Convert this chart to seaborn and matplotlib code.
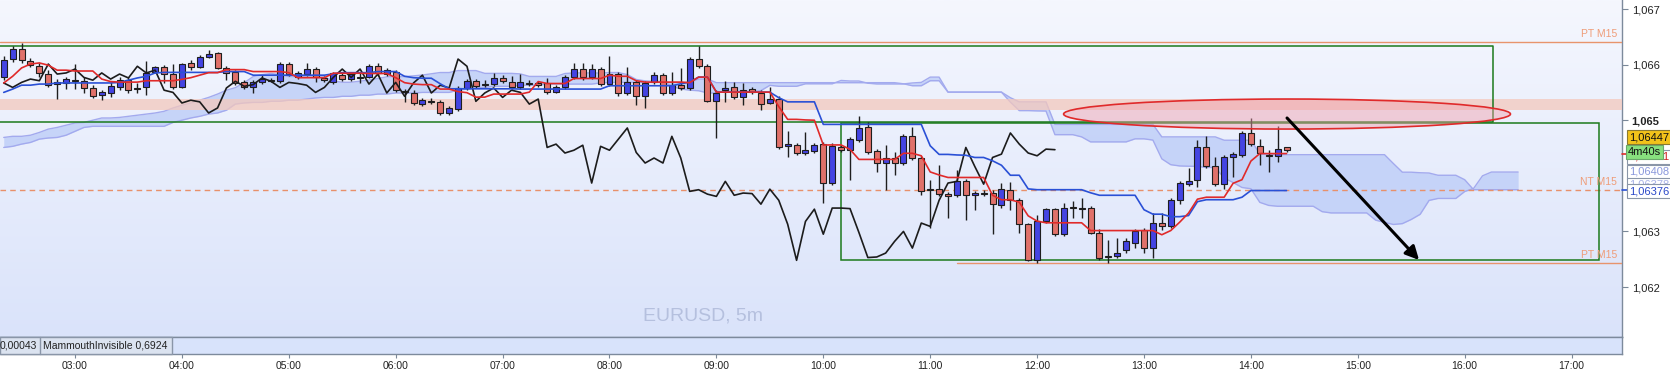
import numpy as np
import pandas as pd
import matplotlib
matplotlib.use("Agg")
import matplotlib.pyplot as plt
import seaborn as sns
from matplotlib.patches import Ellipse, Rectangle
from matplotlib.lines import Line2D
from matplotlib.colors import LinearSegmentedColormap

# ---------------- data (EURUSD 5m, bars from 02:20 to 14:20) ----------------
first_bar_hour = 2 + 20 / 60
bar_minutes = 5

open_ = [1.06577, 1.06610, 1.06628, 1.06606, 1.06597, 1.06583, 1.06565, 1.06567, 1.06572, 1.06570,
         1.06558, 1.06545, 1.06549, 1.06559, 1.06572, 1.06558, 1.06559, 1.06586, 1.06595, 1.06583,
         1.06559, 1.06603, 1.06595, 1.06613, 1.06621, 1.06594, 1.06586, 1.06568, 1.06559, 1.06568,
         1.06572, 1.06570, 1.06601, 1.06577, 1.06583, 1.06592, 1.06576, 1.06568, 1.06581, 1.06574,
         1.06577, 1.06577, 1.06597, 1.06583, 1.06586, 1.06552, 1.06549, 1.06529, 1.06534, 1.06532,
         1.06513, 1.06520, 1.06558, 1.06570, 1.06565, 1.06565, 1.06576, 1.06568, 1.06559, 1.06567,
         1.06567, 1.06567, 1.06550, 1.06559, 1.06577, 1.06592, 1.06577, 1.06592, 1.06565, 1.06583,
         1.06549, 1.06568, 1.06543, 1.06568, 1.06581, 1.06549, 1.06563, 1.06558, 1.06610, 1.06597,
         1.06534, 1.06554, 1.06559, 1.06541, 1.06556, 1.06549, 1.06531, 1.06538, 1.06453, 1.06455,
         1.06441, 1.06444, 1.06457, 1.06387, 1.06451, 1.06446, 1.06464, 1.06487, 1.06444, 1.06423,
         1.06432, 1.06423, 1.06471, 1.06432, 1.06376, 1.06376, 1.06367, 1.06365, 1.06390, 1.06365,
         1.06369, 1.06369, 1.06347, 1.06374, 1.06356, 1.06313, 1.06248, 1.06318, 1.06340, 1.06295,
         1.06343, 1.06342, 1.06342, 1.06298, 1.06255, 1.06255, 1.06266, 1.06280, 1.06302, 1.06270,
         1.06315, 1.06309, 1.06356, 1.06385, 1.06392, 1.06451, 1.06417, 1.06385, 1.06433, 1.06437,
         1.06477, 1.06453, 1.06437, 1.06435, 1.06451]
high = [1.06615, 1.06633, 1.06639, 1.06612, 1.06603, 1.06590, 1.06574, 1.06577, 1.06601, 1.06577,
        1.06563, 1.06554, 1.06568, 1.06577, 1.06577, 1.06567, 1.06606, 1.06597, 1.06599, 1.06601,
        1.06603, 1.06608, 1.06617, 1.06626, 1.06622, 1.06597, 1.06590, 1.06572, 1.06572, 1.06581,
        1.06576, 1.06604, 1.06604, 1.06588, 1.06603, 1.06595, 1.06579, 1.06586, 1.06585, 1.06586,
        1.06585, 1.06601, 1.06603, 1.06594, 1.06590, 1.06556, 1.06554, 1.06540, 1.06540, 1.06536,
        1.06525, 1.06561, 1.06574, 1.06574, 1.06572, 1.06585, 1.06581, 1.06579, 1.06583, 1.06572,
        1.06570, 1.06576, 1.06563, 1.06581, 1.06603, 1.06603, 1.06601, 1.06595, 1.06615, 1.06586,
        1.06595, 1.06572, 1.06570, 1.06586, 1.06585, 1.06586, 1.06594, 1.06613, 1.06633, 1.06601,
        1.06554, 1.06570, 1.06568, 1.06567, 1.06559, 1.06554, 1.06559, 1.06543, 1.06480, 1.06459,
        1.06478, 1.06459, 1.06460, 1.06459, 1.06455, 1.06469, 1.06507, 1.06496, 1.06448, 1.06455,
        1.06442, 1.06475, 1.06487, 1.06435, 1.06392, 1.06419, 1.06370, 1.06410, 1.06394, 1.06372,
        1.06374, 1.06374, 1.06387, 1.06388, 1.06360, 1.06316, 1.06329, 1.06343, 1.06342, 1.06352,
        1.06354, 1.06360, 1.06345, 1.06304, 1.06284, 1.06288, 1.06288, 1.06304, 1.06306, 1.06333,
        1.06333, 1.06360, 1.06390, 1.06414, 1.06464, 1.06471, 1.06433, 1.06437, 1.06442, 1.06480,
        1.06504, 1.06466, 1.06446, 1.06489, 1.06452]
low = [1.06572, 1.06604, 1.06603, 1.06595, 1.06577, 1.06559, 1.06538, 1.06556, 1.06556, 1.06549,
       1.06540, 1.06536, 1.06541, 1.06554, 1.06549, 1.06549, 1.06545, 1.06585, 1.06567, 1.06556,
       1.06558, 1.06590, 1.06594, 1.06612, 1.06592, 1.06572, 1.06563, 1.06556, 1.06549, 1.06565,
       1.06568, 1.06567, 1.06579, 1.06574, 1.06579, 1.06568, 1.06568, 1.06565, 1.06570, 1.06570,
       1.06567, 1.06576, 1.06579, 1.06579, 1.06550, 1.06532, 1.06527, 1.06525, 1.06529, 1.06509,
       1.06509, 1.06516, 1.06554, 1.06558, 1.06559, 1.06561, 1.06567, 1.06556, 1.06556, 1.06561,
       1.06559, 1.06547, 1.06549, 1.06556, 1.06574, 1.06572, 1.06574, 1.06561, 1.06561, 1.06543,
       1.06545, 1.06527, 1.06522, 1.06565, 1.06545, 1.06545, 1.06554, 1.06554, 1.06594, 1.06532,
       1.06468, 1.06532, 1.06538, 1.06527, 1.06547, 1.06518, 1.06529, 1.06448, 1.06433, 1.06437,
       1.06437, 1.06441, 1.06352, 1.06383, 1.06442, 1.06392, 1.06460, 1.06439, 1.06406, 1.06374,
       1.06401, 1.06419, 1.06428, 1.06365, 1.06307, 1.06363, 1.06325, 1.06361, 1.06320, 1.06338,
       1.06363, 1.06295, 1.06343, 1.06338, 1.06297, 1.06246, 1.06243, 1.06315, 1.06291, 1.06291,
       1.06325, 1.06324, 1.06295, 1.06248, 1.06243, 1.06252, 1.06262, 1.06270, 1.06262, 1.06252,
       1.06302, 1.06306, 1.06349, 1.06381, 1.06379, 1.06414, 1.06381, 1.06376, 1.06397, 1.06433,
       1.06453, 1.06419, 1.06406, 1.06424, 1.06442]
close = [1.06608, 1.06628, 1.06608, 1.06599, 1.06585, 1.06563, 1.06568, 1.06574, 1.06571, 1.06558,
         1.06543, 1.06550, 1.06561, 1.06572, 1.06554, 1.06557, 1.06585, 1.06595, 1.06583, 1.06559,
         1.06601, 1.06595, 1.06613, 1.06619, 1.06594, 1.06585, 1.06567, 1.06559, 1.06568, 1.06574,
         1.06571, 1.06601, 1.06583, 1.06585, 1.06592, 1.06577, 1.06572, 1.06585, 1.06574, 1.06583,
         1.06576, 1.06597, 1.06585, 1.06590, 1.06554, 1.06550, 1.06531, 1.06536, 1.06533, 1.06513,
         1.06522, 1.06558, 1.06570, 1.06561, 1.06564, 1.06576, 1.06570, 1.06559, 1.06568, 1.06566,
         1.06563, 1.06550, 1.06559, 1.06577, 1.06592, 1.06577, 1.06592, 1.06565, 1.06583, 1.06549,
         1.06568, 1.06543, 1.06567, 1.06581, 1.06549, 1.06563, 1.06558, 1.06610, 1.06597, 1.06534,
         1.06549, 1.06558, 1.06541, 1.06554, 1.06550, 1.06529, 1.06538, 1.06451, 1.06457, 1.06441,
         1.06446, 1.06455, 1.06387, 1.06453, 1.06446, 1.06466, 1.06486, 1.06442, 1.06423, 1.06432,
         1.06423, 1.06471, 1.06432, 1.06372, 1.06375, 1.06367, 1.06363, 1.06390, 1.06365, 1.06369,
         1.06368, 1.06349, 1.06376, 1.06356, 1.06313, 1.06248, 1.06318, 1.06340, 1.06295, 1.06342,
         1.06342, 1.06341, 1.06298, 1.06253, 1.06254, 1.06261, 1.06282, 1.06300, 1.06270, 1.06315,
         1.06309, 1.06356, 1.06387, 1.06390, 1.06451, 1.06417, 1.06385, 1.06433, 1.06439, 1.06477,
         1.06457, 1.06441, 1.06436, 1.06448, 1.06447]

# Ichimoku values before enough history is on screen
tenkan_head = [1.06567, 1.06579, 1.06594, 1.06601, 1.06603, 1.06599, 1.06590, 1.06590]
kijun_head = [1.06550, 1.06556, 1.06563, 1.06563, 1.06565, 1.06565, 1.06567, 1.06567, 1.06567,
              1.06567, 1.06567, 1.06567, 1.06567, 1.06568, 1.06572, 1.06576, 1.06579, 1.06585,
              1.06586, 1.06586, 1.06586, 1.06586, 1.06586, 1.06586, 1.06586]
span_a_head = [1.06469, 1.06471, 1.06471, 1.06473, 1.06478, 1.06484, 1.06487, 1.06491, 1.06495,
               1.06496, 1.06500, 1.06504, 1.06504, 1.06505, 1.06507, 1.06509, 1.06511, 1.06513,
               1.06516, 1.06522, 1.06527, 1.06531, 1.06536, 1.06541, 1.06547, 1.06554]
span_b_head = ([1.06451, 1.06453, 1.06457, 1.06460, 1.06466, 1.06468, 1.06469, 1.06473, 1.06480, 1.06487]
               + [1.06489] * 9
               + [1.06496, 1.06500, 1.06504, 1.06507, 1.06511, 1.06513, 1.06518, 1.06529, 1.06531,
                  1.06532, 1.06532, 1.06534, 1.06534, 1.06536, 1.06536, 1.06538, 1.06540, 1.06541,
                  1.06541, 1.06543, 1.06543, 1.06545, 1.06545, 1.06547, 1.06547, 1.06549, 1.06549,
                  1.06549, 1.06550, 1.06550, 1.06550, 1.06550, 1.06554, 1.06556, 1.06558, 1.06559,
                  1.06561, 1.06561, 1.06561, 1.06563, 1.06563, 1.06563, 1.06565, 1.06565, 1.06565,
                  1.06565, 1.06565, 1.06565, 1.06567]
               + [1.06568] * 10)

hour_ticks = list(range(3, 18))
hour_labels = [f"{h:02d}:00" for h in hour_ticks]
price_ticks = [1.062, 1.063, 1.065, 1.066, 1.067]
price_labels = ["1,062", "1,063", "1,065", "1,066", "1,067"]

# drawn levels / zones
pt_top_level = 1.06640
pt_bottom_level = 1.06243
nt_level = 1.06374
resist_zone = (1.06518, 1.06538)
box1 = dict(t_right=16.265, p_low=1.064968, p_high=1.066335)
box2 = dict(t_left=10.166, t_right=17.256, p_low=1.062480, p_high=1.064955)

# ---------------- figure ----------------
sns.set_theme(style="white")
plt.rcParams['font.family'] = ['Liberation Sans', 'DejaVu Sans']

W, H = 1670, 371
fig = plt.figure(figsize=(W / 100, H / 100), dpi=100)
fig.patch.set_facecolor('white')
ax = fig.add_axes([0, 34 / H, 1622 / W, 337 / H])
pax = fig.add_axes([0, 17 / H, 1622 / W, 17 / H])

XL = (2.2984, 17.4715)
YL = (1.061101, 1.067162)

grad = LinearSegmentedColormap.from_list('bg', ['#f5f7fe', '#dae3fa'])
ax.imshow(np.linspace(0, 1, 256).reshape(-1, 1), cmap=grad, aspect='auto',
          extent=[XL[0], XL[1], YL[0], YL[1]], origin='upper', zorder=0)

n = len(close)
t = first_bar_hour + np.arange(n) * bar_minutes / 60
hi, lo = pd.Series(high), pd.Series(low)
tenkan = ((hi.rolling(9).max() + lo.rolling(9).min()) / 2).to_numpy()
tenkan[:len(tenkan_head)] = tenkan_head
kijun = ((hi.rolling(26).max() + lo.rolling(26).min()) / 2).to_numpy()
kijun[:len(kijun_head)] = kijun_head
shift = 26
t_fwd = first_bar_hour + np.arange(n + shift) * bar_minutes / 60
span_a = np.concatenate([span_a_head, (tenkan + kijun) / 2])
span_b_src = ((hi.rolling(52).max() + lo.rolling(52).min()) / 2).to_numpy()
span_b = np.concatenate([span_b_head, span_b_src[len(span_b_head) - shift:]])

# cloud
ax.fill_between(t_fwd, span_a, span_b, color='#c2d1f8', alpha=0.9, lw=0, zorder=2)
sns.lineplot(x=t_fwd, y=span_a, ax=ax, color='#a3aaee', lw=1.0, estimator=None, sort=False, zorder=2.5)
sns.lineplot(x=t_fwd, y=span_b, ax=ax, color='#a3aaee', lw=1.0, estimator=None, sort=False, zorder=2.5)

# resistance zone and levels
ax.axhspan(*resist_zone, color='#f4c8bc', alpha=0.75, lw=0, zorder=2.6)
ax.axhline(pt_top_level, color='#e8946c', lw=1.0, zorder=3)
ax.plot([11.25, XL[1]], [pt_bottom_level] * 2, color='#e8946c', lw=1.0, zorder=3)
ax.axhline(nt_level, color='#e8906a', lw=1.0, ls=(0, (4, 3)), zorder=3)

# boxes
g = '#1c7a1c'
ax.plot([XL[0], box1['t_right'], box1['t_right'], XL[0]],
        [box1['p_high'], box1['p_high'], box1['p_low'], box1['p_low']], color=g, lw=1.1, zorder=3)
ax.add_patch(Rectangle((box2['t_left'], box2['p_low']), box2['t_right'] - box2['t_left'],
                       box2['p_high'] - box2['p_low'], fill=False, ec=g, lw=1.1, zorder=3))

# candles
o = np.array(open_); c = np.array(close)
up = c >= o
body_lo = np.minimum(o, c)
body_h = np.maximum(np.abs(c - o), 0.000015)
cols = np.where(up, '#4444e2', '#e0716a')
ax.vlines(t, low, high, color='#1e1e1e', lw=1.0, zorder=4)
ax.bar(t, body_h, bottom=body_lo, width=0.056, color=cols, edgecolor='#1e1e1e', linewidth=0.8, zorder=5)

# ichimoku lines
sns.lineplot(x=t[:n - shift], y=c[shift:], ax=ax, color='#1c1c1c', lw=1.2, estimator=None, sort=False, zorder=6)
sns.lineplot(x=t, y=kijun, ax=ax, color='#2a50d6', lw=1.2, estimator=None, sort=False, zorder=6)
sns.lineplot(x=t, y=tenkan, ax=ax, color='#e02a2a', lw=1.2, estimator=None, sort=False, zorder=6)

# ellipse + arrow
ax.add_patch(Ellipse((14.338, 1.065111), width=4.18, height=0.00054,
                     fc=(0.95, 0.62, 0.67, 0.45), ec='#e02a2a', lw=1.2, zorder=7))
ax.annotate('', xy=(15.573, 1.062486), xytext=(14.338, 1.065040),
            arrowprops=dict(arrowstyle='-|>', color='black', lw=2.2, mutation_scale=20,
                            shrinkA=0, shrinkB=0), zorder=8)

ax.set_xlim(*XL)
ax.set_ylim(*YL)
ax.set_xticks([])
ax.yaxis.tick_right()
ax.set_yticks(price_ticks)
ax.set_yticklabels(price_labels)
ax.tick_params(axis='y', length=4, width=0.8, color='#7a8898', labelsize=8, labelcolor='#222222', pad=3, right=True)
for lab in ax.get_yticklabels():
    if lab.get_text() == "1,065":
        lab.set_fontweight('bold')
for s in ['top', 'left']:
    ax.spines[s].set_visible(False)
for s in ['right', 'bottom']:
    ax.spines[s].set_color('#7d8a9c'); ax.spines[s].set_linewidth(1.0)
ax.set_xlabel(''); ax.set_ylabel('')

# indicator panel
pax.set_facecolor('#d8e3fb')
pax.set_xlim(*XL)
pax.set_yticks([])
pax.set_xticks(hour_ticks)
pax.set_xticklabels(hour_labels)
pax.tick_params(axis='x', length=3, width=0.8, color='#7a8898', labelsize=7.5, labelcolor='#222222', pad=2, bottom=True)
pax.spines['left'].set_visible(False)
for s in ['top', 'bottom', 'right']:
    pax.spines[s].set_color('#7d8a9c'); pax.spines[s].set_linewidth(1.0)

def fx(x): return x / W
def fy(y): return 1 - y / H

fig.add_artist(Rectangle((fx(0), fy(354)), fx(172), 17 / H, transform=fig.transFigure,
                         fc='#dbe3f0', ec='#8a96a8', lw=1.0, zorder=5))
fig.add_artist(Line2D([fx(40), fx(40)], [fy(354), fy(337)], transform=fig.transFigure, color='#8a96a8', lw=1.0, zorder=6))
fig.text(fx(37), fy(345.5), "0,00043", ha='right', va='center', fontsize=7.5, color='#222222', zorder=7)
fig.text(fx(43), fy(345.5), "MammouthInvisible 0,6924", ha='left', va='center', fontsize=7.5, color='#222222', zorder=7)

# watermark & level labels
fig.text(fx(703), fy(316), "EURUSD, 5m", ha='center', va='center', fontsize=14, color='#b5c0de')
for y, s in [(34, "PT M15"), (182, "NT M15"), (255, "PT M15")]:
    fig.text(fx(1617), fy(y), s, ha='right', va='center', fontsize=7.5, color='#ef9c78')

# right side price labels
def plabel(y, s, tc, fc, ec, x=1629):
    fig.text(fx(x), fy(y), s, ha='left', va='center', fontsize=8, color=tc,
             bbox=dict(boxstyle='square,pad=0.18', fc=fc, ec=ec, lw=0.8))

plabel(157, "1,06441", '#cc2020', 'white', '#8a96a8')
plabel(152, "4m40s", '#111111', '#88e07e', '#6aa86a', x=1628)
plabel(137, "1,06447", '#111111', '#f2c21a', '#8c7a30')
plabel(172, "1,06408", '#8a98dc', 'white', '#8a96a8')
plabel(185, "1,06378", '#a8b2e6', 'white', '#8a96a8')
plabel(191, "1,06376", '#2a48c8', 'white', '#8a96a8')
fig.add_artist(Line2D([fx(1622), fx(1628)], [fy(154), fy(154)], transform=fig.transFigure, color='#e02a2a', lw=1.2))
fig.add_artist(Line2D([fx(1622), fx(1628)], [fy(190), fy(190)], transform=fig.transFigure, color='#2a50d6', lw=1.2))

fig.savefig("out.png", dpi=100)
